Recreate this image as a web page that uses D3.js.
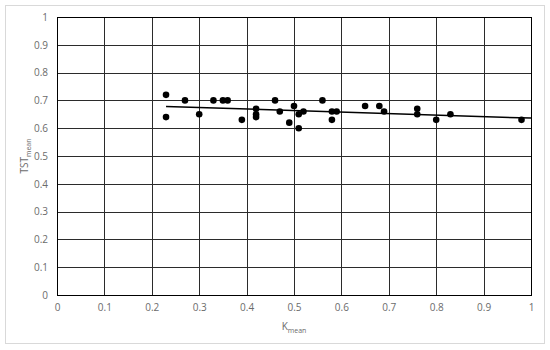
<!DOCTYPE html>
<html>
<head>
<meta charset="utf-8">
<script src="https://cdn.jsdelivr.net/npm/d3@7"></script>
<style>
  html, body { margin: 0; padding: 0; background: #fff; }
  .tick text { font-family: "Open Sans", sans-serif; font-size: 10px; fill: #6b6b6b; }
  .axis-title { font-family: "Open Sans", sans-serif; font-size: 10px; fill: #6b6b6b; }
</style>
</head>
<body>
<div id="chart"></div>
<script>
// K_mean values of the samples
var kMean = [0.23, 0.23, 0.27, 0.30, 0.33, 0.35, 0.36, 0.39, 0.42, 0.42,
             0.42, 0.46, 0.47, 0.49, 0.50, 0.51, 0.51, 0.52, 0.56, 0.58,
             0.58, 0.59, 0.65, 0.68, 0.69, 0.76, 0.76, 0.80, 0.83, 0.98];
// TST_mean values, same order
var tstMean = [0.72, 0.64, 0.70, 0.65, 0.70, 0.70, 0.70, 0.63, 0.67, 0.65,
               0.64, 0.70, 0.66, 0.62, 0.68, 0.65, 0.60, 0.66, 0.70, 0.66,
               0.63, 0.66, 0.68, 0.68, 0.66, 0.67, 0.65, 0.63, 0.65, 0.63];
var xTicks = [0, 0.1, 0.2, 0.3, 0.4, 0.5, 0.6, 0.7, 0.8, 0.9, 1];
var yTicks = [0, 0.1, 0.2, 0.3, 0.4, 0.5, 0.6, 0.7, 0.8, 0.9, 1];

var fullWidth = 550, fullHeight = 350;
var margin = {top: 17, right: 19, bottom: 55, left: 57};
var width = fullWidth - margin.left - margin.right;
var height = fullHeight - margin.top - margin.bottom;

var svg = d3.select('#chart').append('svg')
    .attr('width', fullWidth)
    .attr('height', fullHeight);

// outer chart frame
svg.append('rect')
    .attr('x', 5.5).attr('y', 5.5)
    .attr('width', 539).attr('height', 338)
    .attr('fill', '#fff')
    .attr('stroke', '#d9d9d9');

var g = svg.append('g')
    .attr('transform', 'translate(' + margin.left + ',' + margin.top + ')');

var x = d3.scaleLinear().domain([0, 1]).range([0, width]);
var y = d3.scaleLinear().domain([0, 1]).range([height, 0]);

// Grid lines.
g.append('g').selectAll('line.vg')
    .data(xTicks)
  .enter().append('line')
    .attr('x1', function(d) { return Math.round(x(d)) + 0.5; })
    .attr('x2', function(d) { return Math.round(x(d)) + 0.5; })
    .attr('y1', 0).attr('y2', height)
    .attr('stroke', '#2b2b2b').attr('stroke-width', 1);

g.append('g').selectAll('line.hg')
    .data(yTicks)
  .enter().append('line')
    .attr('y1', function(d) { return Math.round(y(d)) + 0.5; })
    .attr('y2', function(d) { return Math.round(y(d)) + 0.5; })
    .attr('x1', 0).attr('x2', width)
    .attr('stroke', '#2b2b2b').attr('stroke-width', 1);

// Axes (labels only).
var xAxis = d3.axisBottom(x).tickValues(xTicks).tickSize(0).tickPadding(9)
    .tickFormat(d3.format('~g'));
var yAxis = d3.axisLeft(y).tickValues(yTicks).tickSize(0).tickPadding(9)
    .tickFormat(d3.format('~g'));

g.append('g')
    .attr('transform', 'translate(0,' + height + ')')
    .call(xAxis)
    .call(function(s) { s.select('.domain').remove(); });

g.append('g')
    .call(yAxis)
    .call(function(s) { s.select('.domain').remove(); });

// Axis titles.
var xt = svg.append('text')
    .attr('class', 'axis-title')
    .attr('x', margin.left + width / 2)
    .attr('y', 330)
    .attr('text-anchor', 'middle');
xt.append('tspan').text('K');
xt.append('tspan').attr('font-size', '7px').attr('dy', 3).text('mean');

var yt = svg.append('text')
    .attr('class', 'axis-title')
    .attr('transform', 'translate(28,' + (margin.top + height / 2) + ') rotate(-90)')
    .attr('text-anchor', 'middle');
yt.append('tspan').text('TST');
yt.append('tspan').attr('font-size', '7px').attr('dy', 3).text('mean');

// Linear trend line (least squares).
var n = kMean.length;
var mx = d3.mean(kMean), my = d3.mean(tstMean);
var sxy = 0, sxx = 0;
for (var i = 0; i < n; i++) {
    sxy += (kMean[i] - mx) * (tstMean[i] - my);
    sxx += (kMean[i] - mx) * (kMean[i] - mx);
}
var slope = sxy / sxx, icpt = my - slope * mx;
var trendX = [d3.min(kMean), 1];

g.append('line')
    .attr('x1', x(trendX[0])).attr('y1', y(icpt + slope * trendX[0]))
    .attr('x2', x(trendX[1])).attr('y2', y(icpt + slope * trendX[1]))
    .attr('stroke', '#000').attr('stroke-width', 1.5);

// Points.
g.append('g').selectAll('circle')
    .data(d3.range(n))
  .enter().append('circle')
    .attr('cx', function(i) { return x(kMean[i]); })
    .attr('cy', function(i) { return y(tstMean[i]); })
    .attr('r', 3.3)
    .attr('fill', '#000');

// Plot frame.
g.append('rect')
    .attr('x', 0.5).attr('y', 0.5)
    .attr('width', width).attr('height', height)
    .attr('fill', 'none')
    .attr('stroke', '#000').attr('stroke-width', 1);
</script>
</body>
</html>
